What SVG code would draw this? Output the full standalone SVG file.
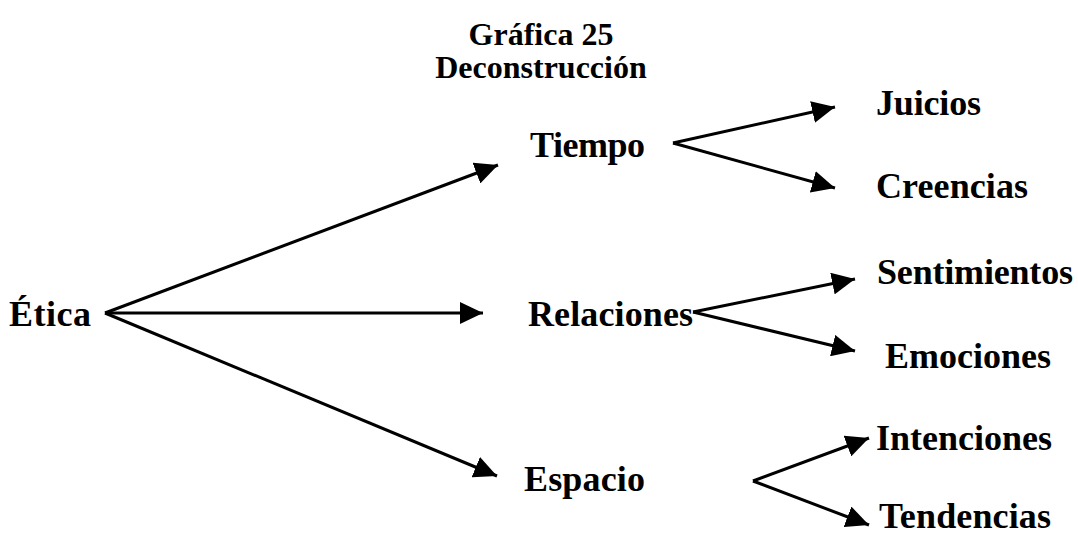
<svg xmlns="http://www.w3.org/2000/svg" width="1078" height="537" viewBox="0 0 1078 537">
<style>
.t{font-family:"Liberation Serif","Times New Roman",serif;font-weight:bold;fill:#000}
.title{font-size:32px}
.n{font-size:36px}
.c line{stroke:#000;stroke-width:3;marker-end:url(#ah)}
</style>
<defs>
<marker id="ah" markerUnits="userSpaceOnUse" markerWidth="24" markerHeight="22" refX="23" refY="11" orient="auto" viewBox="0 0 24 22">
<path d="M0,0 L23,11 L0,22 z" fill="#000"/>
</marker>
</defs>
<rect width="1078" height="537" fill="#fff"/>
<g id="title">
<text class="t title" x="541" y="45" text-anchor="middle">Gráfica 25</text>
<text class="t title" x="541" y="78" text-anchor="middle">Deconstrucción</text>
</g>
<g class="c" id="connectors">
<line x1="105" y1="313" x2="498" y2="165"/>
<line x1="105" y1="313" x2="483" y2="313"/>
<line x1="105" y1="313" x2="497" y2="476"/>
<line x1="673" y1="143" x2="835" y2="107"/>
<line x1="673" y1="143" x2="835" y2="188"/>
<line x1="693" y1="312" x2="855" y2="279"/>
<line x1="693" y1="312" x2="855" y2="351"/>
<line x1="753" y1="481" x2="869" y2="438"/>
<line x1="753" y1="481" x2="869" y2="525"/>
</g>
<g id="etica"><text class="t n" x="9" y="326" textLength="82">Ética</text></g>
<g id="tiempo"><text class="t n" x="530" y="157" textLength="115">Tiempo</text></g>
<g id="relaciones"><text class="t n" x="528" y="326" textLength="165">Relaciones</text></g>
<g id="espacio"><text class="t n" x="524" y="491" textLength="121">Espacio</text></g>
<g id="juicios"><text class="t n" x="876" y="115" textLength="105">Juicios</text></g>
<g id="creencias"><text class="t n" x="876" y="198" textLength="152">Creencias</text></g>
<g id="sentimientos"><text class="t n" x="877" y="284" textLength="196">Sentimientos</text></g>
<g id="emociones"><text class="t n" x="885" y="368" textLength="166">Emociones</text></g>
<g id="intenciones"><text class="t n" x="876" y="450" textLength="176">Intenciones</text></g>
<g id="tendencias"><text class="t n" x="879" y="528" textLength="172">Tendencias</text></g>
</svg>
